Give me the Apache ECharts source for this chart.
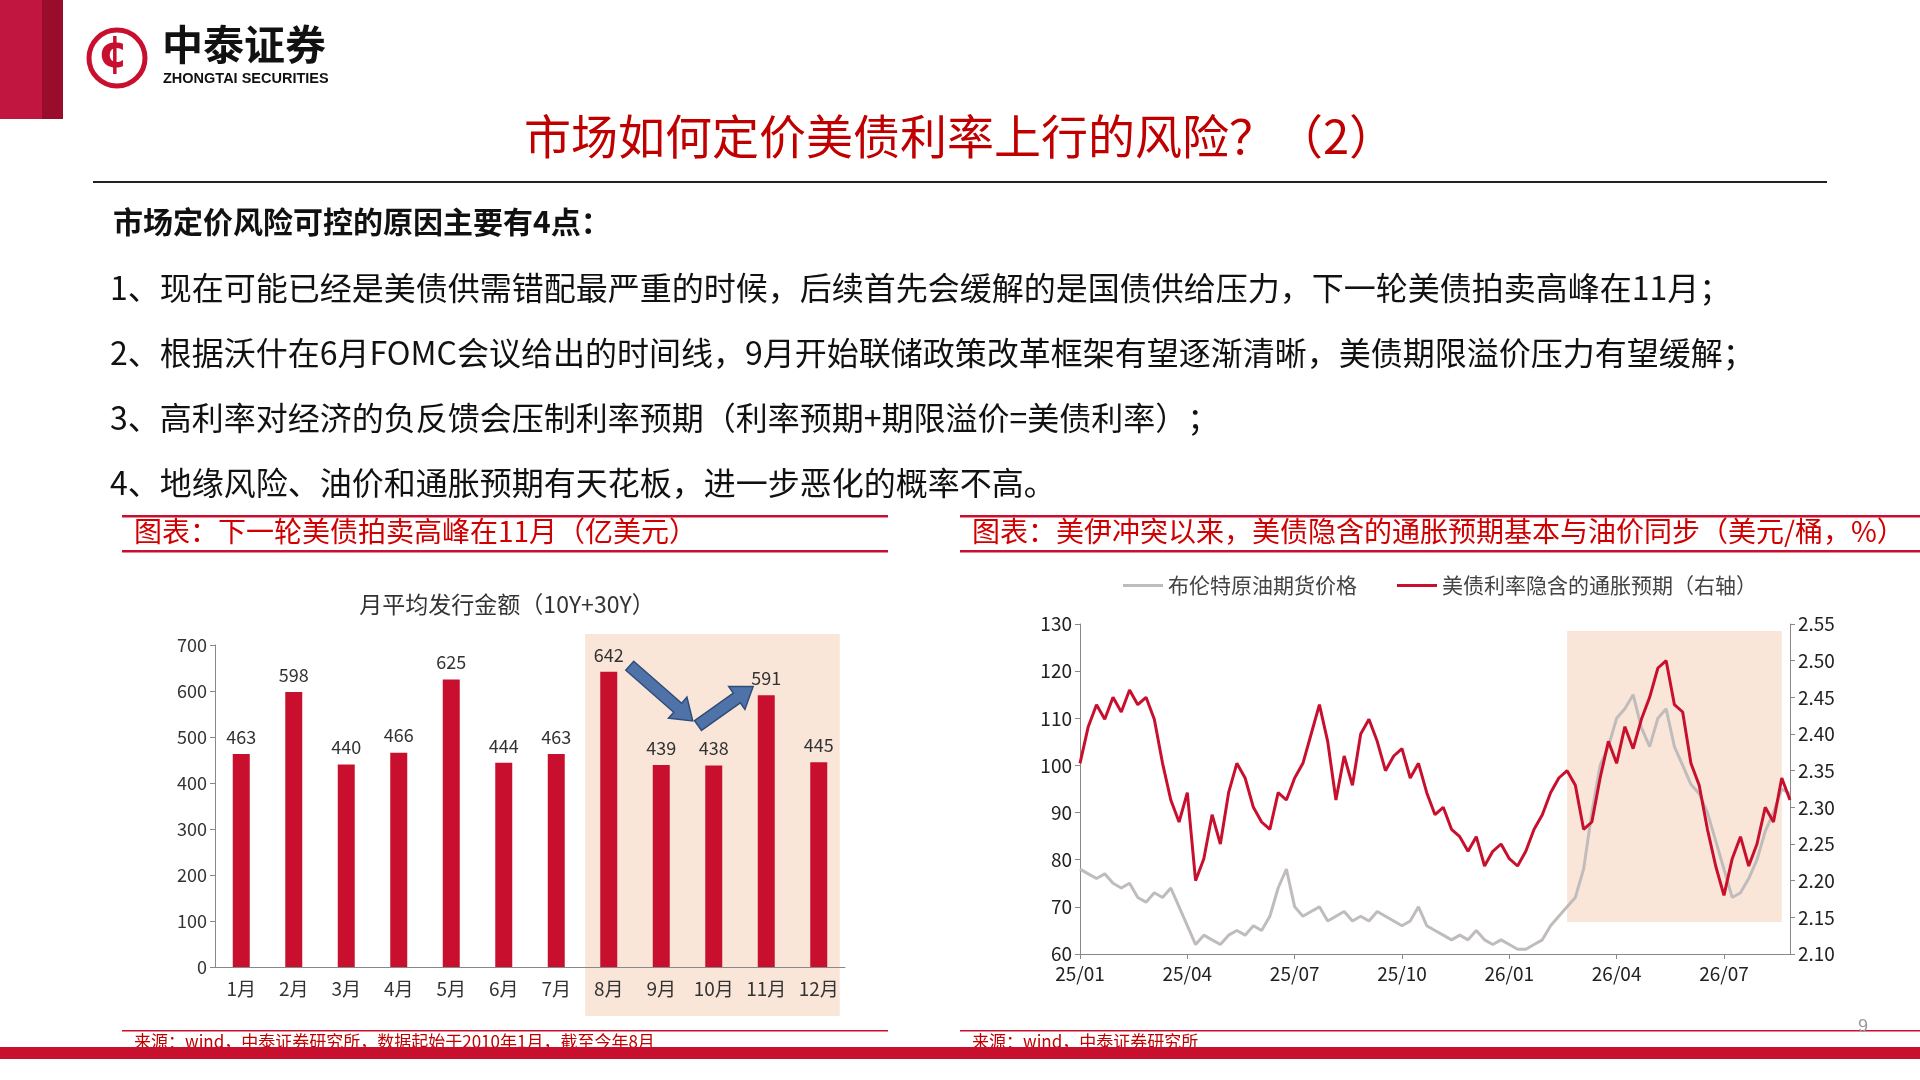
<!DOCTYPE html>
<html>
<head>
<meta charset="utf-8">
<script src="https://cdn.jsdelivr.net/npm/echarts@6/dist/echarts.min.js"></script>
<style>
  html, body { margin: 0; padding: 0; background: #fff; }
  #main { width: 1920px; height: 1080px; }
</style>
</head>
<body>
<div id="main"></div>
<script>
// 左图：月平均发行金额
const months = ['1月','2月','3月','4月','5月','6月','7月','8月','9月','10月','11月','12月'];
const issueAmt = [463, 598, 440, 466, 625, 444, 463, 642, 439, 438, 591, 445];
const leftTicks = [0, 100, 200, 300, 400, 500, 600, 700];

// 右图：周度数据（2025/01 起）
const brent = [
  78, 77, 76, 77, 75, 74, 75, 72, 71, 73, 72, 74, 70, 66, 62, 64, 63, 62, 64, 65,
  64, 66, 65, 68, 74, 78, 70, 68, 69, 70, 67, 68, 69, 67, 68, 67, 69, 68, 67, 66,
  67, 70, 66, 65, 64, 63, 64, 63, 65, 63, 62, 63, 62, 61, 61, 62, 63, 66, 68, 70,
  72, 78, 90, 100, 104, 110, 112, 115, 108, 104, 110, 112, 104, 100, 96, 94, 90, 84, 78, 72,
  73, 76, 80, 86, 90, 95, 94
];
const breakeven = [
  2.36, 2.41, 2.44, 2.42, 2.45, 2.43, 2.46, 2.44, 2.45, 2.42, 2.36, 2.31, 2.28, 2.32, 2.20, 2.23, 2.29, 2.25, 2.32, 2.36,
  2.34, 2.30, 2.28, 2.27, 2.32, 2.31, 2.34, 2.36, 2.40, 2.44, 2.39, 2.31, 2.37, 2.33, 2.40, 2.42, 2.39, 2.35, 2.37, 2.38,
  2.34, 2.36, 2.32, 2.29, 2.30, 2.27, 2.26, 2.24, 2.26, 2.22, 2.24, 2.25, 2.23, 2.22, 2.24, 2.27, 2.29, 2.32, 2.34, 2.35,
  2.33, 2.27, 2.28, 2.34, 2.39, 2.36, 2.41, 2.38, 2.42, 2.45, 2.49, 2.50, 2.44, 2.43, 2.36, 2.33, 2.27, 2.22, 2.18, 2.23,
  2.26, 2.22, 2.25, 2.30, 2.28, 2.34, 2.31
];
const weeks = [];
for (let i = 0; i < brent.length; i++) {
  const d = new Date(Date.UTC(2025, 0, 3 + i * 7));
  weeks.push(String(d.getUTCFullYear()).slice(2) + '/' + String(d.getUTCMonth() + 1).padStart(2, '0'));
}
const quarterStart = (i) => i === 0 || (weeks[i] !== weeks[i - 1] && /\/(01|04|07|10)$/.test(weeks[i]));

const RED = '#c8102e';
const CN = '"Noto Sans CJK SC", "Liberation Sans", sans-serif';
const chart = echarts.init(document.getElementById('main'));

const option = {
  animation: false,
  textStyle: { fontFamily: CN },
  title: [
    { text: '市场如何定价美债利率上行的风险？（2）', left: 'center', top: 108,
      textStyle: { color: '#c00000', fontSize: 47, fontWeight: 'normal', fontFamily: CN } },
    { text: '月平均发行金额（10Y+30Y）', left: 502, top: 588, textAlign: 'center',
      textStyle: { color: '#333', fontSize: 23, fontWeight: 'normal' } }
  ],
  legend: {
    orient: 'horizontal', left: 1118, top: 570, width: 700, itemGap: 40, itemWidth: 40, itemHeight: 3, icon: 'rect',
    textStyle: { fontSize: 21, color: '#444' },
    data: ['布伦特原油期货价格', '美债利率隐含的通胀预期（右轴）']
  },
  grid: [
    { left: 215, top: 645, width: 630, height: 322 },
    { left: 1080, top: 624, width: 710, height: 330 }
  ],
  xAxis: [
    { gridIndex: 0, type: 'category', data: months,
      axisLine: { lineStyle: { color: '#888' } }, axisTick: { show: false },
      axisLabel: { color: '#333', fontSize: 19, margin: 12 } },
    { gridIndex: 1, type: 'category', data: weeks, boundaryGap: false,
      axisLine: { lineStyle: { color: '#888' } },
      axisTick: { show: true, lineStyle: { color: '#888' }, interval: quarterStart },
      axisLabel: { color: '#222', fontSize: 19, margin: 10, interval: quarterStart } }
  ],
  yAxis: [
    { gridIndex: 0, type: 'value', min: 0, max: 700, interval: 100,
      axisLine: { show: true, lineStyle: { color: '#888' } },
      axisTick: { show: true, length: 5 }, splitLine: { show: false },
      axisLabel: { color: '#333', fontSize: 18 } },
    { gridIndex: 1, type: 'value', min: 60, max: 130, interval: 10,
      axisLine: { show: true, lineStyle: { color: '#888' } },
      axisTick: { show: true, length: 5 }, splitLine: { show: false },
      axisLabel: { color: '#222', fontSize: 19 } },
    { gridIndex: 1, type: 'value', min: 2.10, max: 2.55, interval: 0.05, position: 'right',
      axisLine: { show: true, lineStyle: { color: '#888' } },
      axisTick: { show: true, length: 5 }, splitLine: { show: false },
      axisLabel: { color: '#222', fontSize: 19, formatter: (v) => v.toFixed(2) } }
  ],
  series: [
    { type: 'bar', xAxisIndex: 0, yAxisIndex: 0, data: issueAmt, barWidth: 17,
      itemStyle: { color: RED },
      label: { show: true, position: 'top', color: '#333', fontSize: 18, distance: 8 } },
    { name: '布伦特原油期货价格', type: 'line', xAxisIndex: 1, yAxisIndex: 1, data: brent,
      showSymbol: false, lineStyle: { color: '#c0bcbc', width: 3 }, itemStyle: { color: '#c0bcbc' },
      markArea: { silent: true, itemStyle: { color: 'rgba(245,200,170,0.45)' },
        data: [[{ xAxis: 59, yAxis: 128.5 }, { xAxis: 85, yAxis: 66.8 }]] } },
    { name: '美债利率隐含的通胀预期（右轴）', type: 'line', xAxisIndex: 1, yAxisIndex: 2, data: breakeven,
      showSymbol: false, lineStyle: { color: RED, width: 3 }, itemStyle: { color: RED } }
  ]
};
chart.setOption(option);

// 左图阴影及箭头（按数据坐标换算）
function px(idx, val) {
  const a = chart.convertToPixel({ gridIndex: 0 }, [Math.floor(idx), val]);
  const b = chart.convertToPixel({ gridIndex: 0 }, [Math.floor(idx) + 1, val]);
  return [a[0] + (b[0] - a[0]) * (idx - Math.floor(idx)), a[1]];
}
function arrow(p1, p2) {
  const dx = p2[0] - p1[0], dy = p2[1] - p1[1], L = Math.hypot(dx, dy);
  const ux = dx / L, uy = dy / L, nx = -uy, ny = ux;
  const w = 6, hw = 14, hl = 20;
  const bx = p2[0] - ux * hl, by = p2[1] - uy * hl;
  return [
    [p1[0] + nx * w, p1[1] + ny * w], [bx + nx * w, by + ny * w], [bx + nx * hw, by + ny * hw],
    p2, [bx - nx * hw, by - ny * hw], [bx - nx * w, by - ny * w], [p1[0] - nx * w, p1[1] - ny * w]
  ];
}
const s0 = px(6.55, 710), s1 = px(11.4, 0);
const BODY = { fontSize: 32, fill: '#111', fontFamily: CN };
const gfx = [
  { type: 'rect', z: -1, shape: { x: s0[0], y: 634, width: s1[0] - s0[0], height: 382 },
    style: { fill: 'rgba(245,200,170,0.45)' } },
  { type: 'polygon', z: 10, shape: { points: arrow(px(7.4, 655), px(8.6, 535)) },
    style: { fill: '#4f73a8', stroke: '#2f4d78', lineWidth: 1.5 } },
  { type: 'polygon', z: 10, shape: { points: arrow(px(8.7, 525), px(9.75, 610)) },
    style: { fill: '#4f73a8', stroke: '#2f4d78', lineWidth: 1.5 } },
  // 左上色块
  { type: 'rect', shape: { x: 0, y: 0, width: 42, height: 119 }, style: { fill: '#c0163f' } },
  { type: 'rect', shape: { x: 42, y: 0, width: 21, height: 119 }, style: { fill: '#9a0c2c' } },
  // 标志
  { type: 'circle', shape: { cx: 117, cy: 58, r: 28 }, style: { fill: 'none', stroke: RED, lineWidth: 5 } },
  { type: 'text', left: 98, top: 34, style: { text: '¢', fontSize: 44, fill: RED, fontWeight: 'bold', fontFamily: 'DejaVu Sans' } },
  { type: 'text', left: 162, top: 24, style: { text: '中泰证券', fontSize: 41, fontWeight: 'bold', fill: '#111', fontFamily: CN } },
  { type: 'text', left: 163, top: 71, style: { text: 'ZHONGTAI SECURITIES', fontSize: 14.5, fontWeight: 'bold', fill: '#111', fontFamily: 'Liberation Sans' } },
  // 标题下横线
  { type: 'rect', shape: { x: 93, y: 181, width: 1734, height: 2 }, style: { fill: '#222' } },
  // 正文
  { type: 'text', left: 113, top: 207, style: Object.assign({}, BODY, { text: '市场定价风险可控的原因主要有4点：', fontWeight: 'bold', fontSize: 30 }) },
  { type: 'text', left: 110, top: 272, style: Object.assign({}, BODY, { text: '1、现在可能已经是美债供需错配最严重的时候，后续首先会缓解的是国债供给压力，下一轮美债拍卖高峰在11月；' }) },
  { type: 'text', left: 110, top: 337, style: Object.assign({}, BODY, { text: '2、根据沃什在6月FOMC会议给出的时间线，9月开始联储政策改革框架有望逐渐清晰，美债期限溢价压力有望缓解；' }) },
  { type: 'text', left: 110, top: 402, style: Object.assign({}, BODY, { text: '3、高利率对经济的负反馈会压制利率预期（利率预期+期限溢价=美债利率）；' }) },
  { type: 'text', left: 110, top: 467, style: Object.assign({}, BODY, { text: '4、地缘风险、油价和通胀预期有天花板，进一步恶化的概率不高。' }) },
  // 图表标题栏
  { type: 'rect', shape: { x: 122, y: 515, width: 766, height: 2.5 }, style: { fill: RED } },
  { type: 'rect', shape: { x: 122, y: 550, width: 766, height: 2.5 }, style: { fill: RED } },
  { type: 'text', left: 134, top: 517, style: { text: '图表：下一轮美债拍卖高峰在11月（亿美元）', fontSize: 28, fill: '#d00000', fontFamily: CN } },
  { type: 'rect', shape: { x: 960, y: 515, width: 960, height: 2.5 }, style: { fill: RED } },
  { type: 'rect', shape: { x: 960, y: 550, width: 960, height: 2.5 }, style: { fill: RED } },
  { type: 'text', left: 972, top: 517, style: { text: '图表：美伊冲突以来，美债隐含的通胀预期基本与油价同步（美元/桶，%）', fontSize: 28, fill: '#d00000', fontFamily: CN } },
  // 来源
  { type: 'rect', shape: { x: 122, y: 1030, width: 766, height: 1.5 }, style: { fill: RED } },
  { type: 'rect', shape: { x: 960, y: 1030, width: 960, height: 1.5 }, style: { fill: RED } },
  { type: 'text', left: 134, top: 1033, style: { text: '来源：wind，中泰证券研究所，数据起始于2010年1月，截至今年8月', fontSize: 17, fill: '#c00000', fontFamily: CN } },
  { type: 'text', left: 972, top: 1033, style: { text: '来源：wind，中泰证券研究所', fontSize: 17, fill: '#c00000', fontFamily: CN } },
  { type: 'text', left: 1858, top: 1018, style: { text: '9', fontSize: 18, fill: '#999', fontFamily: 'Liberation Sans' } },
  { type: 'rect', z: 20, shape: { x: 0, y: 1047, width: 1920, height: 12 }, style: { fill: RED } }
];
chart.setOption({ graphic: gfx });
</script>
</body>
</html>
